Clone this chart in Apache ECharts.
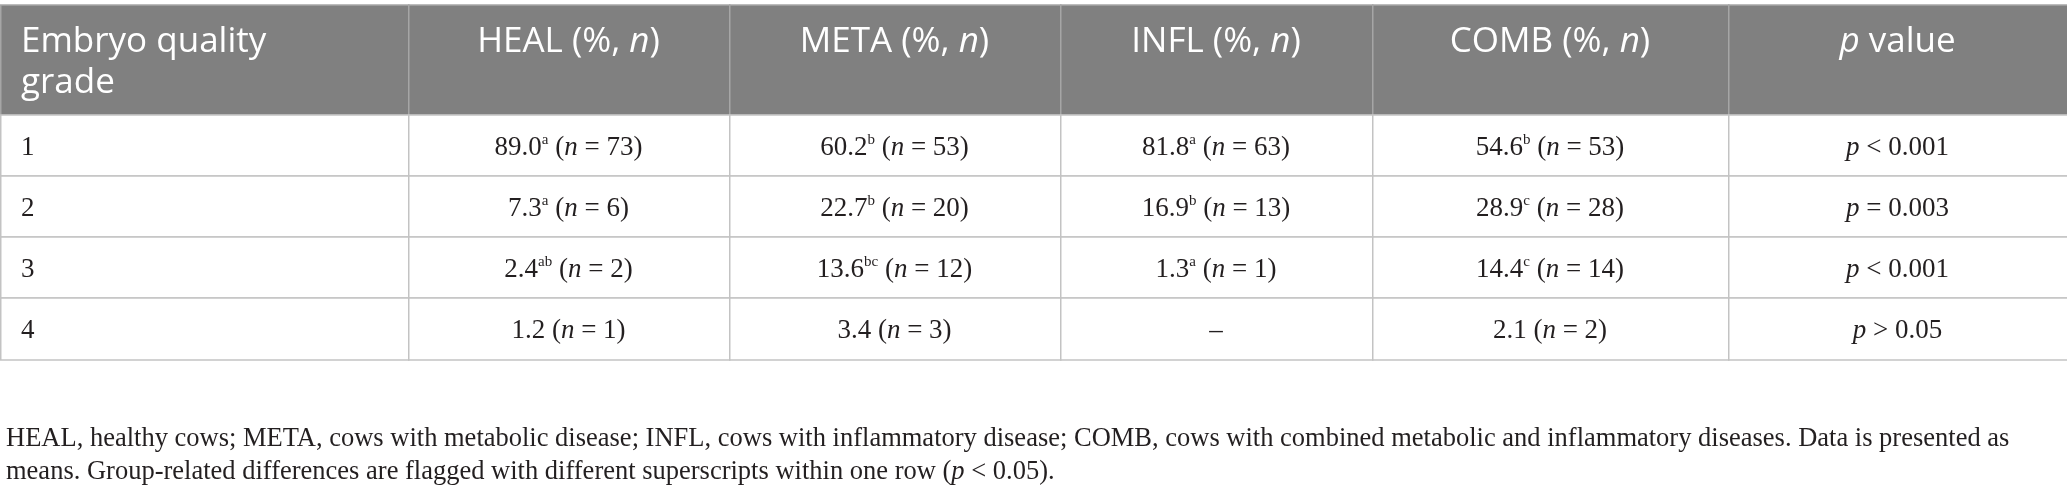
<!DOCTYPE html>
<html>
<head>
<meta charset="utf-8">
<script src="https://cdn.jsdelivr.net/npm/echarts@6/dist/echarts.min.js"></script>
<style>
  html, body { margin: 0; padding: 0; background: #fff; }
  #main { width: 2067px; height: 500px; }
</style>
</head>
<body>
<div id="main"></div>
<script>
// table content
const headerLabels = ['Embryo quality\ngrade', 'HEAL', 'META', 'INFL', 'COMB', 'p value']
const grades = ['1', '2', '3', '4']
const healPct = [89.0, 7.3, 2.4, 1.2]
const healN = [73, 6, 2, 1]
const healSup = ['a', 'a', 'ab', '']
const metaPct = [60.2, 22.7, 13.6, 3.4]
const metaN = [53, 20, 12, 3]
const metaSup = ['b', 'b', 'bc', '']
const inflPct = [81.8, 16.9, 1.3, null]
const inflN = [63, 13, 1, null]
const inflSup = ['a', 'b', 'a', '']
const combPct = [54.6, 28.9, 14.4, 2.1]
const combN = [53, 28, 14, 2]
const combSup = ['b', 'c', 'c', '']
const pSign = ['<', '=', '<', '>']
const pValues = ['0.001', '0.003', '0.001', '0.05']

// layout (widths / heights in axis units)
const colWidths = [408, 321, 331, 312, 356, 339]
const rowHeights = [110, 61, 61, 61, 62]
const colEdges = [0]
colWidths.forEach(w => colEdges.push(colEdges[colEdges.length - 1] + w))
const rowEdges = [0]
rowHeights.forEach(h => rowEdges.push(rowEdges[rowEdges.length - 1] + h))

const SANS = '"Open Sans", "Noto Sans", sans-serif'
const SERIF = '"Liberation Serif", "Times New Roman", serif'
const INK = '#231f20'

function fmtCell (pct, n, sup) {
  if (pct === null) return '{r|–}'
  let s = '{r|' + pct.toFixed(1) + '}'
  if (sup) s += '{s|' + sup + '}'
  return s + '{r| (}{i|n}{r| = ' + n + ')}'
}

// build cells: [col, row] + text
const cells = []
headerLabels.forEach((h, c) => {
  let t
  if (c === 0) t = '{h|Embryo quality}\n{h|grade}'
  else if (c === 5) t = '{hi|p}{h| value}'
  else t = '{h|' + h + ' (%, }{hi|n}{h|)}'
  cells.push({ value: [c, 0], text: t })
})
const groups = [[healPct, healN, healSup], [metaPct, metaN, metaSup], [inflPct, inflN, inflSup], [combPct, combN, combSup]]
grades.forEach((g, r) => {
  cells.push({ value: [0, r + 1], text: '{r|' + g + '}' })
  groups.forEach((grp, k) => {
    cells.push({ value: [k + 1, r + 1], text: fmtCell(grp[0][r], grp[1][r], grp[2][r]) })
  })
  cells.push({ value: [5, r + 1], text: '{i|p}{r| ' + pSign[r] + ' ' + pValues[r] + '}' })
})

const rich = {
  h: { fontFamily: SANS, fontSize: 35, lineHeight: 41, fill: '#fff' },
  hi: { fontFamily: SANS, fontSize: 35, lineHeight: 41, fontStyle: 'italic', fill: '#fff' },
  r: { fontFamily: SERIF, fontSize: 27, lineHeight: 30, fill: INK },
  i: { fontFamily: SERIF, fontSize: 27, lineHeight: 30, fontStyle: 'italic', fill: INK },
  s: { fontFamily: SERIF, fontSize: 15, lineHeight: 16, verticalAlign: 'top', fill: INK }
}

function renderCell (params, api) {
  const c = api.value(0)
  const r = api.value(1)
  const p0 = api.coord([colEdges[c], rowEdges[r]])
  const p1 = api.coord([colEdges[c + 1], rowEdges[r + 1]])
  const x0 = p0[0]
  const y0 = p0[1]
  const w = p1[0] - x0
  const h = p1[1] - y0
  const header = r === 0
  const left = c === 0
  return {
    type: 'group',
    children: [
      {
        type: 'rect',
        shape: { x: x0 + 0.75, y: y0, width: w, height: h },
        style: { fill: header ? '#808080' : '#fff', stroke: header ? '#a6a6a6' : '#c3c3c3', lineWidth: 1.5 }
      },
      {
        type: 'text',
        x: left ? x0 + 21 : x0 + w / 2,
        y: header ? y0 + 17 : y0 + h / 2 + 2,
        style: {
          text: cells[params.dataIndex].text,
          rich: rich,
          align: left ? 'left' : 'center',
          verticalAlign: header ? 'top' : 'middle'
        }
      }
    ]
  }
}

const chart = echarts.init(document.getElementById('main'))
chart.setOption({
  animation: false,
  title: {
    left: 1,
    top: 418,
    text: '{f|HEAL, healthy cows; META, cows with metabolic disease; INFL, cows with inflammatory disease; COMB, cows with combined metabolic and inflammatory diseases. Data is presented as}\n' +
      '{f|means. Group-related differences are flagged with different superscripts within one row (}{fi|p}{f| < 0.05).}',
    textStyle: {
      fontWeight: 'normal',
      rich: {
        f: { fontFamily: SERIF, fontSize: 26.5, fontWeight: 'normal', lineHeight: 33, color: INK },
        fi: { fontFamily: SERIF, fontSize: 26.5, fontWeight: 'normal', lineHeight: 33, fontStyle: 'italic', color: INK }
      }
    }
  },
  grid: { left: 0, right: 0, top: 5, height: 355 },
  xAxis: { type: 'value', min: 0, max: colEdges[colEdges.length - 1], show: false },
  yAxis: { type: 'value', min: 0, max: rowEdges[rowEdges.length - 1], inverse: true, show: false },
  series: [{
    type: 'custom',
    renderItem: renderCell,
    data: cells.map(d => d.value),
    clip: false
  }]
})
</script>
</body>
</html>
